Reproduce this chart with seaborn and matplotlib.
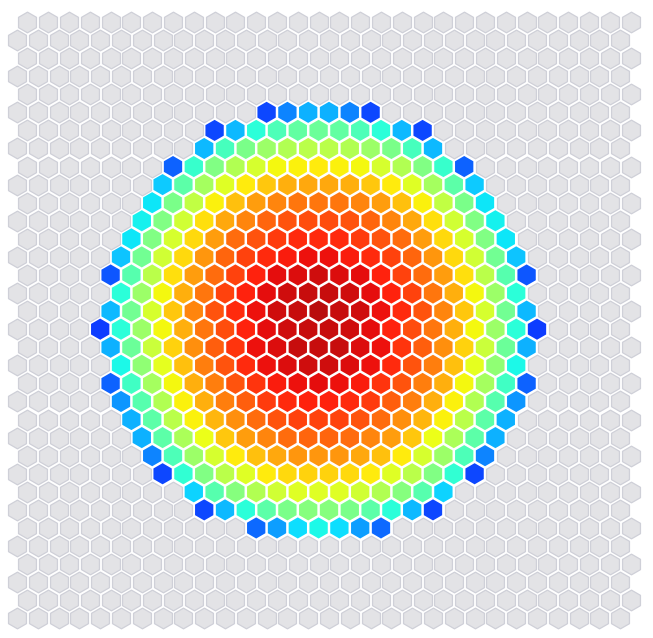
import numpy as np
import pandas as pd
import matplotlib
matplotlib.use("Agg")
import matplotlib.pyplot as plt
import seaborn as sns

# Hex grid: 34 rows x 30 columns (pointy-top hexagons, even rows shifted right by half a cell)
N_ROWS = 34
N_COLS = 30

# Coloured cells: for each row, the first occupied column and the values
row_ids = [5, 6, 7, 8, 9, 10, 11, 12, 13, 14, 15, 16, 17, 18, 19, 20, 21, 22, 23, 24, 25, 26, 27, 28]
first_cols = [12, 9, 9, 7, 7, 6, 6, 5, 5, 4, 5, 4, 4, 4, 5, 4, 5, 5, 6, 6, 7, 8, 9, 11]
row_values = [
    [12, 19, 24, 24, 19, 12],
    [12, 25, 34, 39, 42, 43, 42, 39, 34, 25, 12],
    [25, 38, 45, 50, 53, 54, 54, 53, 50, 45, 38, 25],
    [15, 36, 46, 53, 58, 62, 63, 64, 63, 62, 58, 53, 46, 36, 15],
    [27, 41, 51, 59, 64, 68, 71, 72, 72, 71, 68, 64, 59, 51, 41, 27],
    [30, 45, 55, 63, 69, 73, 76, 78, 78, 78, 76, 73, 69, 63, 55, 45, 30],
    [31, 46, 57, 65, 72, 76, 80, 82, 83, 83, 82, 80, 76, 72, 65, 57, 46, 31],
    [30, 46, 58, 66, 73, 79, 82, 85, 87, 87, 87, 85, 82, 79, 73, 66, 58, 46, 30],
    [26, 44, 57, 66, 74, 80, 84, 87, 89, 90, 90, 89, 87, 84, 80, 74, 66, 57, 44, 26],
    [14, 40, 54, 65, 73, 79, 84, 88, 91, 92, 93, 92, 91, 88, 84, 79, 73, 65, 54, 40, 14],
    [34, 50, 62, 71, 78, 84, 88, 91, 93, 94, 94, 93, 91, 88, 84, 78, 71, 62, 50, 34],
    [25, 44, 58, 68, 76, 82, 87, 90, 93, 94, 95, 94, 93, 90, 87, 82, 76, 68, 58, 44, 25],
    [11, 34, 50, 62, 71, 78, 83, 88, 91, 93, 94, 94, 93, 91, 88, 83, 78, 71, 62, 50, 34, 11],
    [24, 43, 56, 67, 75, 81, 86, 90, 92, 94, 94, 94, 92, 90, 86, 81, 75, 67, 56, 43, 24],
    [32, 48, 60, 69, 77, 82, 87, 90, 92, 93, 93, 92, 90, 87, 82, 77, 69, 60, 48, 32],
    [15, 37, 51, 62, 71, 77, 82, 86, 89, 90, 91, 90, 89, 86, 82, 77, 71, 62, 51, 37, 15],
    [21, 40, 53, 63, 71, 77, 81, 85, 87, 88, 88, 87, 85, 81, 77, 71, 63, 53, 40, 21],
    [24, 41, 54, 63, 70, 75, 79, 82, 84, 84, 84, 82, 79, 75, 70, 63, 54, 41, 24],
    [24, 41, 52, 61, 68, 73, 76, 79, 80, 80, 79, 76, 73, 68, 61, 52, 41, 24],
    [19, 39, 50, 58, 64, 69, 72, 74, 74, 74, 72, 69, 64, 58, 50, 39, 19],
    [12, 35, 46, 54, 59, 64, 66, 67, 67, 66, 64, 59, 54, 46, 35, 12],
    [28, 40, 47, 53, 57, 59, 59, 59, 57, 53, 47, 40, 28],
    [12, 25, 34, 41, 45, 47, 47, 45, 41, 34, 25, 12],
    [16, 22, 29, 32, 29, 22, 16],
]

VALUE_RANGE = (-8, 100.5)
EMPTY_COLOR = "#e3e3e6"
EMPTY_EDGE = "#cfd0d8"


def x_of(r, c):
    return c + (0.5 if r % 2 == 0 else 0.0)


records = []
filled = set()
for r, c0, vals in zip(row_ids, first_cols, row_values):
    for k, v in enumerate(vals):
        c = c0 + k
        records.append({"x": x_of(r, c), "y": r, "value": v})
        filled.add((r, c))
df = pd.DataFrame(records)

empty = pd.DataFrame(
    [{"x": x_of(r, c), "y": r} for r in range(N_ROWS) for c in range(N_COLS) if (r, c) not in filled]
)

sns.set_theme(style="white")
fig = plt.figure(figsize=(6.53, 6.38), dpi=100)
ax = fig.add_axes([0, 0, 1, 1])

jet = matplotlib.colormaps["jet"]
sns.scatterplot(data=empty, x="x", y="y", marker="h", s=222, color=EMPTY_COLOR,
                edgecolor=EMPTY_EDGE, linewidth=0.9, ax=ax, legend=False)
sns.scatterplot(data=df, x="x", y="y", hue="value", palette=jet, hue_norm=VALUE_RANGE,
                marker="h", s=232, edgecolor="none", linewidth=0, alpha=0.95, ax=ax, legend=False)

ax.set_xlim(-0.817, 30.577)
ax.set_ylim(34.09, -1.2175)
ax.set_axis_off()
fig.patch.set_facecolor("white")
fig.savefig("out.png", dpi=100, facecolor="white")
